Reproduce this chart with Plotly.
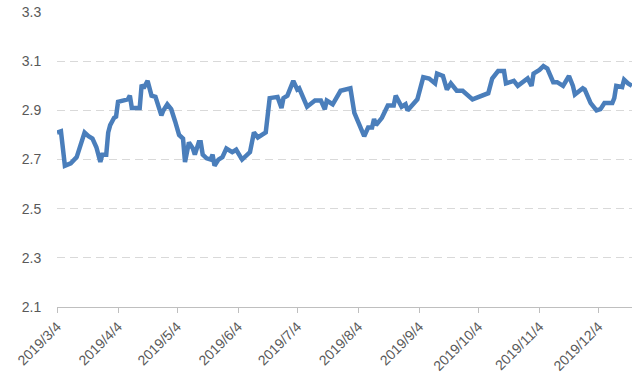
import plotly.graph_objects as go

dates = [
    "2019-03-04", "2019-03-06", "2019-03-08", "2019-03-11", "2019-03-14", "2019-03-16",
    "2019-03-18", "2019-03-20", "2019-03-22", "2019-03-24", "2019-03-26", "2019-03-27",
    "2019-03-29", "2019-03-30", "2019-03-31", "2019-04-02", "2019-04-03", "2019-04-04",
    "2019-04-07", "2019-04-09", "2019-04-10", "2019-04-11", "2019-04-15", "2019-04-16",
    "2019-04-17", "2019-04-19", "2019-04-21", "2019-04-23", "2019-04-26", "2019-04-27",
    "2019-04-29", "2019-05-01", "2019-05-03", "2019-05-05", "2019-05-07", "2019-05-08",
    "2019-05-10", "2019-05-12", "2019-05-13", "2019-05-15", "2019-05-16", "2019-05-17",
    "2019-05-19", "2019-05-21", "2019-05-22", "2019-05-23", "2019-05-25", "2019-05-27",
    "2019-05-29", "2019-06-01", "2019-06-03", "2019-06-06", "2019-06-10", "2019-06-12",
    "2019-06-14", "2019-06-18", "2019-06-20", "2019-06-24", "2019-06-26", "2019-06-27",
    "2019-06-29", "2019-07-02", "2019-07-04", "2019-07-05", "2019-07-09", "2019-07-13",
    "2019-07-16", "2019-07-18", "2019-07-19", "2019-07-22", "2019-07-26", "2019-07-30",
    "2019-07-31", "2019-08-02", "2019-08-06", "2019-08-07", "2019-08-09", "2019-08-11",
    "2019-08-12", "2019-08-13", "2019-08-16", "2019-08-19", "2019-08-22", "2019-08-23",
    "2019-08-26", "2019-08-28", "2019-08-29", "2019-09-02", "2019-09-03", "2019-09-06",
    "2019-09-09", "2019-09-12", "2019-09-13", "2019-09-16", "2019-09-18", "2019-09-20",
    "2019-09-23", "2019-09-26", "2019-10-01", "2019-10-09", "2019-10-11", "2019-10-14",
    "2019-10-17", "2019-10-18", "2019-10-22", "2019-10-24", "2019-10-29", "2019-10-31",
    "2019-11-01", "2019-11-04", "2019-11-06", "2019-11-08", "2019-11-11", "2019-11-13",
    "2019-11-16", "2019-11-19", "2019-11-21", "2019-11-22", "2019-11-26", "2019-11-27",
    "2019-11-30", "2019-12-03", "2019-12-05", "2019-12-07", "2019-12-11", "2019-12-12",
    "2019-12-13", "2019-12-16", "2019-12-17", "2019-12-19", "2019-12-21",
]

values = [
    2.81, 2.815, 2.675, 2.685, 2.71, 2.76,
    2.81, 2.795, 2.785, 2.75, 2.69, 2.72,
    2.72, 2.81, 2.84, 2.87, 2.875, 2.935,
    2.94, 2.945, 2.96, 2.91, 2.91, 3.005,
    2.99, 3.02, 2.96, 2.955, 2.88, 2.90,
    2.925, 2.905, 2.855, 2.80, 2.785, 2.69,
    2.77, 2.745, 2.72, 2.77, 2.77, 2.72,
    2.705, 2.70, 2.72, 2.675, 2.70, 2.71,
    2.745, 2.73, 2.74, 2.70, 2.73, 2.81,
    2.79, 2.81, 2.95, 2.955, 2.91, 2.95,
    2.96, 3.02, 2.985, 2.99, 2.915, 2.94,
    2.94, 2.905, 2.94, 2.925, 2.98, 2.985,
    2.99, 2.89, 2.81, 2.795, 2.83, 2.83,
    2.865, 2.84, 2.87, 2.92, 2.92, 2.96,
    2.915, 2.925, 2.90, 2.935, 2.945, 3.035,
    3.03, 3.01, 3.05, 3.04, 2.985, 3.01,
    2.98, 2.98, 2.945, 2.97, 3.03, 3.06,
    3.06, 3.01, 3.02, 3.00, 3.03, 3.00,
    3.05, 3.065, 3.08, 3.07, 3.015, 3.015,
    3.00, 3.04, 3.00, 2.965, 2.99, 2.985,
    2.93, 2.90, 2.905, 2.93, 2.93, 2.95,
    3.00, 2.995, 3.025, 3.01, 3.00,
]

tick_dates = ["2019-03-04", "2019-04-04", "2019-05-04", "2019-06-04", "2019-07-04",
              "2019-08-04", "2019-09-04", "2019-10-04", "2019-11-04", "2019-12-04"]
tick_labels = ["2019/3/4", "2019/4/4", "2019/5/4", "2019/6/4", "2019/7/4",
               "2019/8/4", "2019/9/4", "2019/10/4", "2019/11/4", "2019/12/4"]
y_ticks = [2.1, 2.3, 2.5, 2.7, 2.9, 3.1, 3.3]

fig = go.Figure()
fig.add_trace(go.Scatter(
    x=dates, y=values, mode="lines",
    line=dict(color="#4a7ebb", width=4.5),
    showlegend=False,
))

fig.update_layout(
    width=642, height=384,
    margin=dict(l=57, r=10, t=12, b=77),
    paper_bgcolor="white", plot_bgcolor="white",
    font=dict(family="Liberation Sans, Arial, sans-serif", size=14, color="#595959"),
)
fig.update_xaxes(
    type="date",
    automargin=False,
    range=["2019-03-04", "2019-12-21"],
    tickvals=tick_dates, ticktext=tick_labels,
    tickangle=-45,
    showgrid=False, zeroline=False,
    showline=True, linecolor="#bfbfbf", linewidth=1,
    ticks="outside", ticklen=5, tickcolor="#bfbfbf",
)
fig.update_yaxes(
    automargin=False,
    range=[2.1, 3.3005],
    tickvals=y_ticks, ticktext=[f"{v:.1f}" for v in y_ticks],
    showgrid=True, gridcolor="#d9d9d9", griddash="8px,5px", gridwidth=1.3,
    zeroline=False, showline=False, ticks="outside", ticklen=12, tickcolor="rgba(0,0,0,0)",
)

fig.write_html(
    "out.html",
    config={"displayModeBar": False},
    post_script="document.body.style.margin='0';document.body.style.overflow='hidden';",
)
